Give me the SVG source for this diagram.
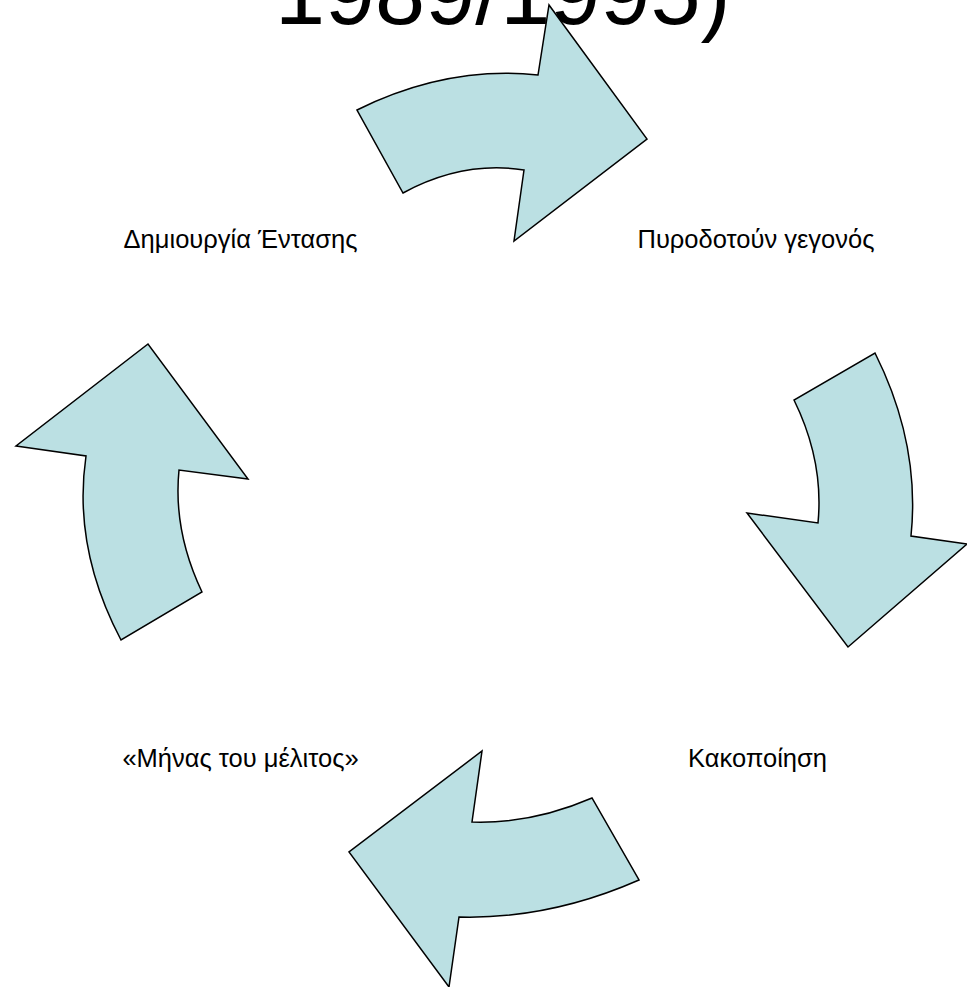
<svg xmlns="http://www.w3.org/2000/svg" width="967" height="987" viewBox="0 0 967 987">
<style>
.arrow{fill:#BBE0E3;stroke:#000;stroke-width:1.5;stroke-linejoin:miter}
.lbl{font-family:"Liberation Sans",Arial,sans-serif;font-size:25.5px;fill:#000;text-anchor:middle}
.title{font-family:"Liberation Sans",Arial,sans-serif;font-size:90px;fill:#000}
</style>
<rect width="967" height="987" fill="#fff"/>
<g id="title"><text class="title" x="275" y="24">1989/1995)</text></g>
<g id="connectors">
<path id="arrow-top" class="arrow" d="M357,110 Q447,65.5 538,75 L549,5 L647,139 L514,241 L524,170 Q463,160.5 403,193 Z"/>
<path id="arrow-right" class="arrow" d="M875,353 Q920.5,444 911,536 L967,544 L848,647 L747,513 L818,523 Q824,461 794,400 Z"/>
<path id="arrow-bottom" class="arrow" d="M639,880 Q549,919.5 459,917 L449,987 L349,852 L482,751 L472,822 Q532,824 592,798 Z"/>
<path id="arrow-left" class="arrow" d="M121,640 Q72.5,548 86,456 L16,446 L148,344 L248,479 L179,470 Q173,531 202,592 Z"/>
</g>
<g id="node-tension"><text class="lbl" x="240.5" y="247.5">Δημιουργία Έντασης</text></g>
<g id="node-trigger"><text class="lbl" x="756" y="247.5">Πυροδοτούν γεγονός</text></g>
<g id="node-abuse"><text class="lbl" x="757.5" y="767">Κακοποίηση</text></g>
<g id="node-honeymoon"><text class="lbl" x="240.5" y="767">«Μήνας του μέλιτος»</text></g>
</svg>
